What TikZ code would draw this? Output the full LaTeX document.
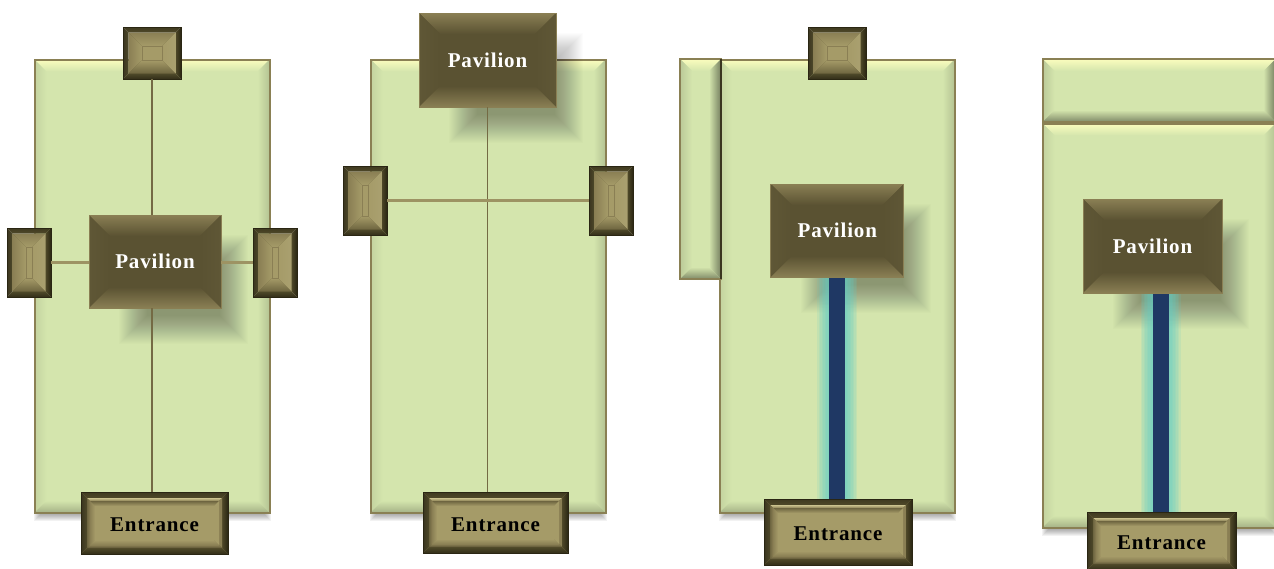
\documentclass[tikz,border=0pt]{standalone}
\usepackage{fontspec}
\setmainfont{Liberation Serif}
\newfontfamily\plaquefont[LetterSpace=4]{Liberation Serif}
\usetikzlibrary{positioning}

\definecolor{lawn}{HTML}{D4E5AD}
\definecolor{lawnedge}{HTML}{8A8054}
\definecolor{bronze}{HTML}{5A5232}
\definecolor{bronzelit}{HTML}{8A7F54}
\definecolor{bronzeside}{HTML}{5F5736}
\definecolor{bronzemid}{HTML}{6E6540}
\definecolor{brass}{HTML}{A59B68}
\definecolor{brasslit}{HTML}{CBC28E}
\definecolor{frametop}{HTML}{3F3A20}
\definecolor{frameleft}{HTML}{3A3520}
\definecolor{frameright}{HTML}{2A2613}
\definecolor{framebot}{HTML}{332E19}
\definecolor{frameinner}{HTML}{4F4929}
\definecolor{canalblue}{HTML}{1F3864}
\definecolor{canalglow}{HTML}{62CFC8}

\pgfdeclarelayer{haze}
\pgfdeclarelayer{ground}
\pgfdeclarelayer{glow}
\pgfsetlayers{haze,ground,glow,main}

% one bevelled ring: inset, depth, top, left, right, bottom, inner colour
\newcommand{\bevelring}[7]{
    \coordinate (oa) at ([shift={(#1pt,-#1pt)}]path picture bounding box.north west);
    \coordinate (ob) at ([shift={(-#1pt,-#1pt)}]path picture bounding box.north east);
    \coordinate (oc) at ([shift={(-#1pt,#1pt)}]path picture bounding box.south east);
    \coordinate (od) at ([shift={(#1pt,#1pt)}]path picture bounding box.south west);
    \coordinate (ia) at ([shift={(#2pt,-#2pt)}]oa);
    \coordinate (ib) at ([shift={(-#2pt,-#2pt)}]ob);
    \coordinate (ic) at ([shift={(-#2pt,#2pt)}]oc);
    \coordinate (id) at ([shift={(#2pt,#2pt)}]od);
    \shade[top color=#3,bottom color=#7] (oa) -- (ob) -- (ib) -- (ia) -- cycle;
    \shade[left color=#4,right color=#7] (oa) -- (ia) -- (id) -- (od) -- cycle;
    \shade[left color=#7,right color=#5] (ob) -- (oc) -- (ic) -- (ib) -- cycle;
    \shade[top color=#7,bottom color=#6] (od) -- (oc) -- (ic) -- (id) -- cycle;
    \fill[#7] (ia) rectangle (ic);
}

% blurred shadow of a node: node, shifts of its corners (left, top, right, bottom), steps, opacity
\newcommand{\softshadow}[7]{
    \foreach \k in {-#6,...,#6} {
        \fill[black, opacity=#7]
            ([shift={(#2pt+\k pt,-#3pt-\k pt)}]#1.north west) rectangle
            ([shift={(#4pt-\k pt,-#5pt+\k pt)}]#1.south east);
    }
}

\tikzset{
    plot/.style={inner sep=0pt, outer sep=0pt, line width=1pt},
    garden/.style={plot, draw=lawnedge, line width=2pt, fill=lawn,
        path picture={\bevelring{0}{12}{white!75!yellow!90!lawn}{lawn!92!black}{lawn!85!black}{lawn!78!black}{lawn}}},
    sidestrip/.style={garden,
        path picture={\bevelring{0}{12}{white!75!yellow!90!lawn}{lawn!88!black}{lawn!55!black}{lawn!60!black}{lawn}}},
    pavilion/.style={plot, draw=bronzelit, fill=bronze, text=white,
        font=\plaquefont\bfseries\fontsize{21}{24}\selectfont,
        path picture={\bevelring{0}{21}{bronzelit}{bronzeside}{bronzeside}{bronzelit}{bronze}}},
    gatebase/.style={plot, draw=frameright},
    gatefill/.style={path picture={
        \bevelring{0}{5.5}{frametop}{frameleft}{frameright}{framebot}{frameinner}
        \bevelring{5.5}{13.5}{bronzelit}{bronzelit}{brass!95!white}{bronzemid}{brass}
        \draw[bronzelit, line width=0.7pt] (ia) rectangle (ic);
    }},
    topgate/.style={gatebase, minimum width=58pt, minimum height=52pt, gatefill},
    sidegate/.style={gatebase, minimum width=44pt, minimum height=69pt, gatefill},
    entrance/.style={plot, draw=frameright, text=black, fill=brass, text height=17pt, text depth=0pt,
        font=\plaquefont\bfseries\fontsize{21}{24}\selectfont,
        path picture={
            \bevelring{0}{6}{frametop}{frameleft}{frameright}{framebot}{frameinner}
            \bevelring{6}{3}{brasslit}{bronzemid}{bronzelit}{bronzeside}{bronzelit}
            \bevelring{9}{5}{bronzemid}{bronzelit}{brass}{bronzelit}{brass}
        }},
    walk/.style={bronzemid!90!brass, line width=1.8pt},
    crosswalk/.style={brass!95!black, line width=2.2pt},
    canal/.style={canalblue, line width=16pt},
}

\begin{document}
\begin{tikzpicture}[x=1pt,y=-1pt]
    \useasboundingbox (0,0) rectangle (1274,568);

    % Gardens
    \begin{pgfonlayer}{ground}
        \foreach \name/\cx in {lawnA/152, lawnB/488, lawnC/837}
            \node[garden, minimum width=235pt, minimum height=453pt] (\name) at (\cx,286) {};
        \node[garden, minimum width=233pt, minimum height=404pt] (lawnD) at (1159,325.5) {};
        \node[sidestrip, minimum width=41pt, minimum height=220pt] (stripC) at (700.5,169) {};
        \node[sidestrip, minimum width=233pt, minimum height=63pt] (stripD) at (1159,90.5) {};
        \draw[frameleft, line width=2.5pt] (stripC.north east) -- (stripC.south east);
    \end{pgfonlayer}
    \begin{pgfonlayer}{haze}
        \foreach \name in {lawnA, lawnB, lawnC, lawnD} {
            \softshadow{\name}{3}{6}{-3}{4}{4}{0.05}
        }
    \end{pgfonlayer}

    % Pavilions
    \node[pavilion, minimum width=132pt, minimum height=93pt] (pavA) at (155,261.5) {Pavilion};
    \node[pavilion, minimum width=137pt, minimum height=94pt] (pavB) at (487.5,60) {Pavilion};
    \node[pavilion, minimum width=133pt, minimum height=93pt] (pavC) at (837.3,230.5) {Pavilion};
    \node[pavilion, minimum width=139pt, minimum height=94pt] (pavD) at (1152.5,246) {Pavilion};

    % Gates
    \foreach \name/\cx in {topA/152, topC/837}
        \node[topgate] (\name) at (\cx,53) {};
    \foreach \name/\cx/\cy in {leftA/29/262.5, rightA/275/262.5, leftB/365/200.5, rightB/611/200.5}
        \node[sidegate] (\name) at (\cx,\cy) {};

    % Entrances
    \node[entrance, minimum width=147pt, minimum height=62pt] (entA) at (154.5,523) {Entrance};
    \node[entrance, minimum width=145pt, minimum height=61pt] (entB) at (495.5,522.5) {Entrance};
    \node[entrance, minimum width=148pt, minimum height=66pt] (entC) at (838,532) {Entrance};
    \node[entrance, minimum width=149pt, minimum height=58pt] (entD) at (1161.5,541) {Entrance};

    % Shadows
    \begin{pgfonlayer}{glow}
        \foreach \name in {pavA, pavB, pavC, pavD} {
            \softshadow{\name}{44}{34}{13}{22}{14}{0.013}
        }
    \end{pgfonlayer}

    % Walks
    \draw[walk] (topA.south) -- (topA.south |- pavA.north);
    \draw[walk] (topA.south |- pavA.south) -- (topA.south |- entA.north);
    \draw[crosswalk] (leftA.east) -- (leftA.east -| pavA.west);
    \draw[crosswalk] (rightA.west) -- (rightA.west -| pavA.east);
    \draw[walk] (pavB.south) -- (pavB.south |- entB.north);
    \draw[crosswalk] (leftB.east) -- (rightB.west);

    % Canals
    \begin{pgfonlayer}{glow}
        \foreach \w in {40,37,...,19} {
            \draw[canalglow, line width=\w pt, opacity=0.14] (pavC.south) -- (pavC.south |- entC.north);
            \draw[canalglow, line width=\w pt, opacity=0.14] ([xshift=-1pt]entD.north) -- ([xshift=-1pt]entD.north |- pavD.south);
        }
        \draw[canal] (pavC.south) -- (pavC.south |- entC.north);
        \draw[canal] ([xshift=-1pt]entD.north) -- ([xshift=-1pt]entD.north |- pavD.south);
    \end{pgfonlayer}
\end{tikzpicture}
\end{document}
